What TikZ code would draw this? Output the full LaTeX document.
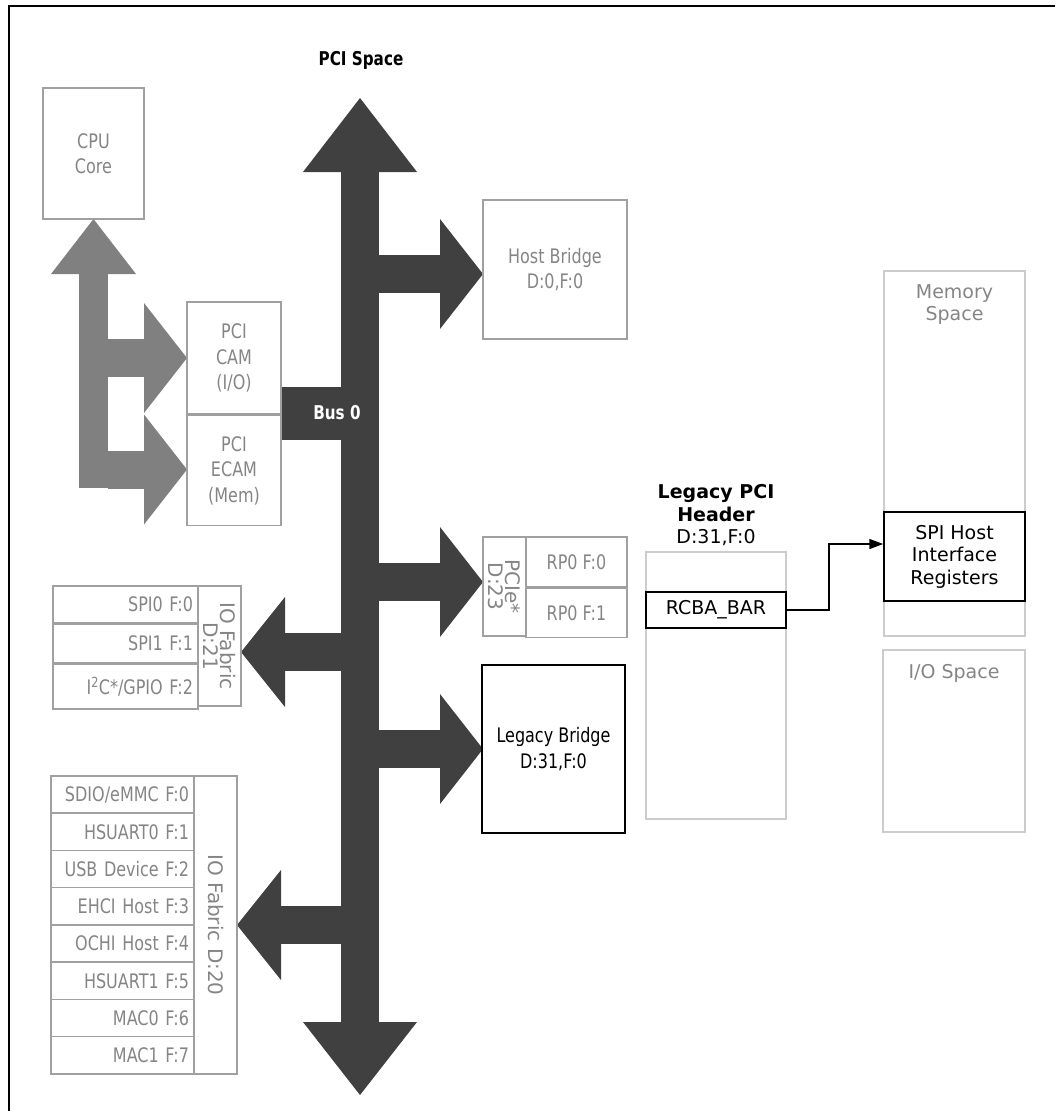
\documentclass[tikz,border=0pt]{standalone}
\usepackage{fontspec}
\setmainfont{DejaVu Sans}
\newfontfamily\narrowfont[FakeStretch=0.8]{DejaVu Sans}
\usetikzlibrary{positioning,arrows.meta}
\definecolor{busgray}{HTML}{404040}
\definecolor{armgray}{HTML}{808080}
\definecolor{labelgray}{HTML}{858585}
\definecolor{edgegray}{HTML}{A0A0A0}
\definecolor{paleedge}{HTML}{CCCCCC}
\tikzset{
  box/.style={draw=edgegray, line width=1.5pt, inner sep=0pt, align=center,
    text=labelgray, font=\narrowfont\fontsize{20}{25.5}\selectfont},
  rowbox/.style={box, inner xsep=5pt, align=right},
  rotbox/.style={box, rotate=-90, font=\fontsize{20}{17}\selectfont},
  darkbox/.style={box, draw=black, text=black},
  palebox/.style={draw=paleedge, line width=1.5pt, inner sep=0pt},
  regbox/.style={draw=black, fill=white, line width=1.5pt, inner sep=0pt,
    align=center, font=\fontsize{19}{22.5}\selectfont},
  spacetext/.style={text=labelgray, align=center, font=\fontsize{19}{22.5}\selectfont},
  link/.style={line width=1.5pt, -{Triangle[length=14pt,width=10pt]}}
}
\begin{document}
\begin{tikzpicture}[x=1pt,y=-1pt]
\useasboundingbox (0,0) rectangle (1055,1111);
\draw[line width=2.5pt] (9,1111) -- (9,6) -- (1055,6);
% bus 0
\def\shl{341}
\def\shr{379}
\fill[busgray] (\shl,172) rectangle (\shr,1022);
\fill[busgray] (303,172) -- (360,98) -- (417,172) -- cycle;
\fill[busgray] (303,1022) -- (360,1095) -- (417,1022) -- cycle;
\foreach \yc in {274,582,749}
  {\fill[busgray] (\shr,\yc-19) rectangle (440,\yc+19);
   \fill[busgray] (440,\yc-55) -- (483,\yc) -- (440,\yc+55) -- cycle;}
\foreach \yc/\tip in {652/241,925/237}
  {\fill[busgray] (\shl,\yc-19) rectangle (\tip+44,\yc+19);
   \fill[busgray] (\tip+44,\yc-55) -- (\tip,\yc) -- (\tip+44,\yc+55) -- cycle;}
\fill[busgray] (281,387) rectangle (\shl,440);
\node[text=white, font=\narrowfont\bfseries\fontsize{19}{23}\selectfont] (bus) at (337,413) {Bus 0};
\node[font=\narrowfont\bfseries\fontsize{19}{23}\selectfont] (pcispace) at (361,60) {PCI Space};
% cpu side
\fill[armgray] (79,274) rectangle (108,488);
\fill[armgray] (51,274) -- (93.5,219) -- (136,274) -- cycle;
\foreach \yc in {358,469.5}
  {\fill[armgray] (108,\yc-19) rectangle (144,\yc+19);
   \fill[armgray] (144,\yc-55) -- (187,\yc) -- (144,\yc+55) -- cycle;}
\node[box, minimum width=101pt, minimum height=131pt] (cpu) at (93.5,153.5) {CPU\\Core};
\node[box, minimum width=94pt, minimum height=112pt] (cam) at (234,358) {PCI\\CAM\\(I/O)};
\node[box, minimum width=94pt, minimum height=110pt, below=0pt of cam] (ecam) {PCI\\ECAM\\(Mem)};
\node[box, minimum width=144pt, minimum height=139pt] (hostbr) at (555,269.5) {Host Bridge\\D:0,F:0};
% pcie
\node[rotbox, minimum width=99pt, minimum height=43pt] (pcie) at (504.5,586.5) {PCIe*\\D:23};
\node[box, minimum width=101pt, minimum height=50pt] (rp0) at (576.5,562) {RP0 F:0};
\node[box, minimum width=101pt, minimum height=49pt, below=0pt of rp0] (rp1) {RP0 F:1};
% io fabric d:21
\node[rotbox, minimum width=120pt, minimum height=43pt] (d21) at (219.5,646) {IO Fabric\\D:21};
\node[rowbox, text width=135pt, minimum height=37pt] (spi0) at (125.5,604.5) {SPI0 F:0};
\node[rowbox, text width=135pt, minimum height=38pt, below=0pt of spi0] (spi1) {SPI1 F:1};
\node[rowbox, text width=135pt, minimum height=45pt, below=0pt of spi1] (i2c) {I\textsuperscript{2}C*/GPIO F:2};
% io fabric d:20
\node[rotbox, minimum width=298pt, minimum height=43pt] (d20) at (215.5,925) {IO Fabric D:20};
\foreach \lbl [count=\i from 0] in {SDIO/eMMC F:0,HSUART0 F:1,USB Device F:2,EHCI Host F:3,OCHI Host F:4,HSUART1 F:5,MAC0 F:6,MAC1 F:7}
  {\node[rowbox, text width=133pt, minimum height=37.25pt] (d20r\i) at (122.5,{794.6+\i*37.25}) {\lbl};}
% legacy bridge and header
\node[darkbox, minimum width=143pt, minimum height=168pt] (legacy) at (553.5,749) {Legacy Bridge\\D:31,F:0};
\node[palebox, minimum width=140pt, minimum height=267pt] (header) at (716,685.5) {};
\node[align=center, font=\fontsize{19}{22.5}\selectfont] (hdrtitle) at (716,515.5) {\textbf{Legacy PCI}\\\textbf{Header}\\D:31,F:0};
\node[regbox, minimum width=140pt, minimum height=36pt] (rcba) at (716,610) {RCBA\_BAR};
% address spaces
\node[palebox, minimum width=141pt, minimum height=365pt] (memory) at (954.5,453.5) {};
\node[spacetext] (memtxt) at (954.5,304.5) {Memory\\Space};
\node[regbox, minimum width=141pt, minimum height=89pt] (spi) at (954.5,556.5) {SPI Host\\Interface\\Registers};
\node[palebox, minimum width=142pt, minimum height=182pt] (iospace) at (954,741) {};
\node[spacetext] (iotxt) at (954,673) {I/O Space};
\draw[link] (rcba.east) -- ++(42,0) |- ([yshift=12.5pt]spi.west);
\end{tikzpicture}
\end{document}
